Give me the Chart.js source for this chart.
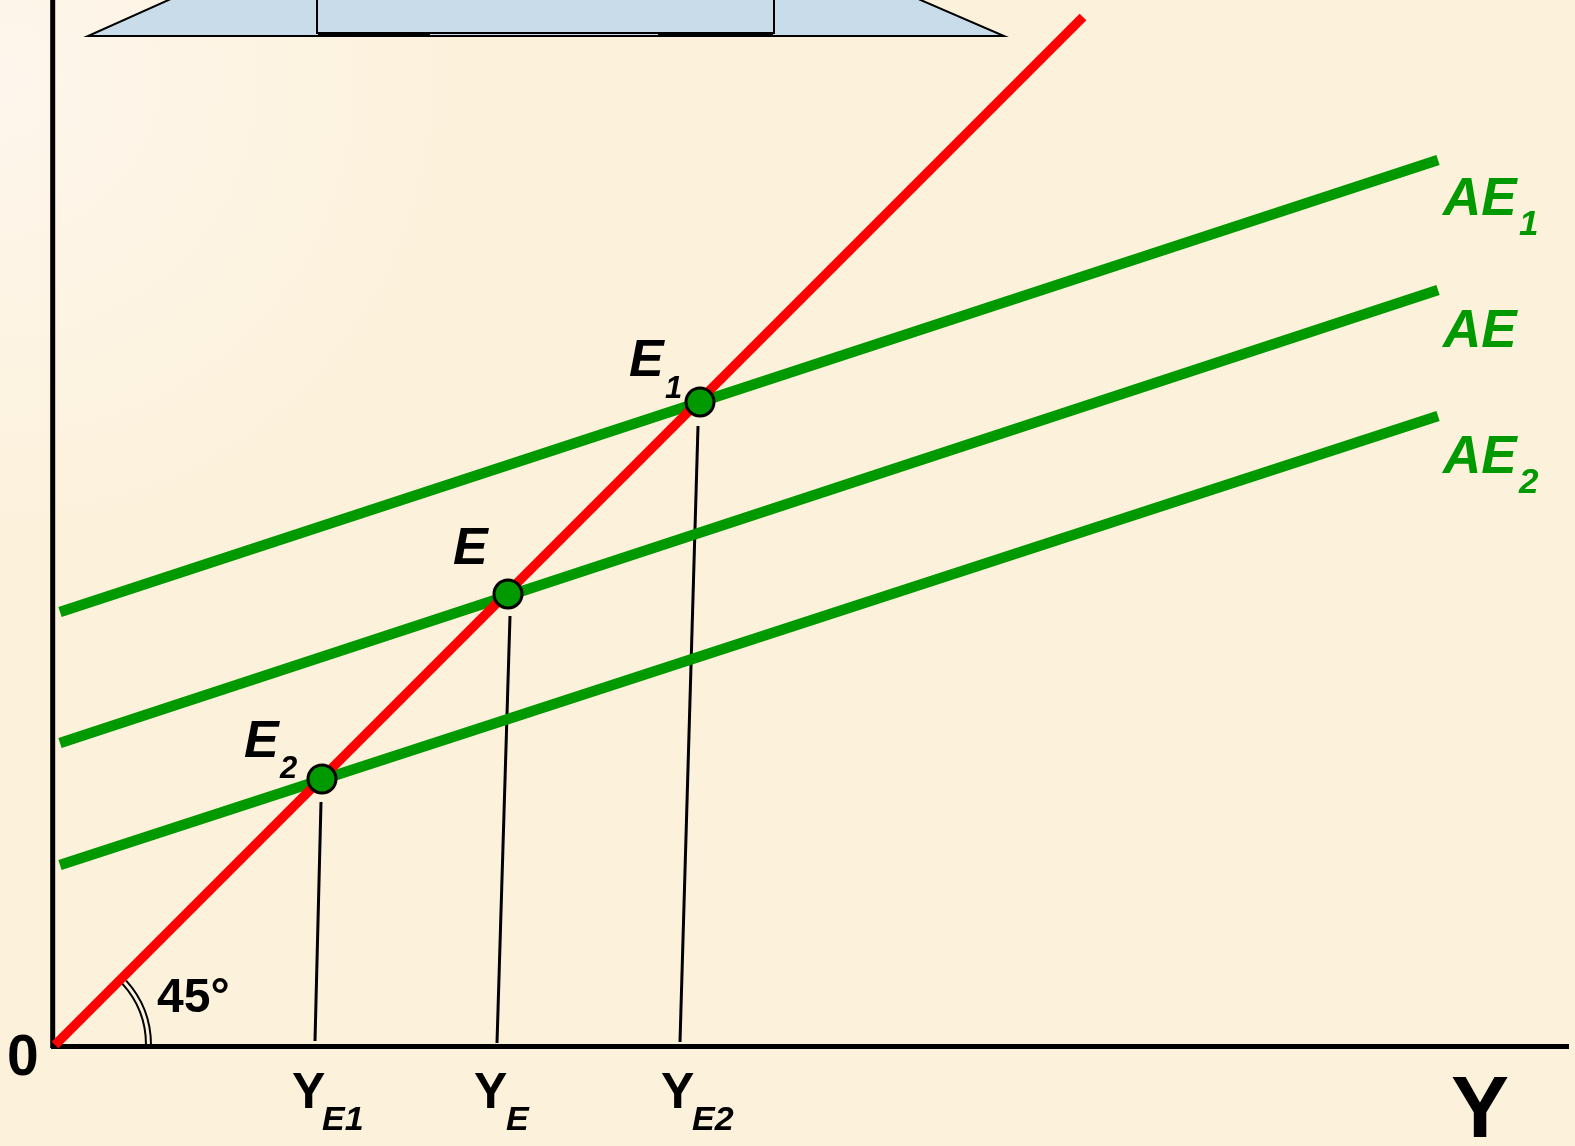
<!DOCTYPE html>
<html>
<head>
<meta charset="utf-8">
<script src="https://cdn.jsdelivr.net/npm/chart.js@4.4.1/dist/chart.umd.min.js"></script>
<style>
  html, body { margin: 0; padding: 0; background: #fcf1da; }
  canvas { display: block; }
</style>
</head>
<body>
<canvas id="aeChart" width="1575" height="1146"></canvas>
<script>
// values (x = income Y, y = expenditure)
const diagonal = [[0, 0], [1028, 1028]];
const ae1 = [[5, 433], [1383, 885]];
const ae = [[5, 302], [1383, 755]];
const ae2 = [[5, 180], [1383, 629]];
const equilibria = [[645, 643], [453, 451], [267, 266]]; // E1, E, E2
const dropE1 = [[643, 619], [625, 3]];
const dropE = [[455, 429], [442, 2]];
const dropE2 = [[266, 243], [260, 4]];
const axisX = [-4, 1514];
const axisY = [-3, 1047];

const toPts = (arr) => arr.map((p) => ({ x: p[0], y: p[1] }));
const FONT = '"Liberation Sans", Arial, sans-serif';
const GREEN = "#009900";

function txt(ctx, s, x, y, size, style, color) {
  ctx.font = style + " " + size + "px " + FONT;
  ctx.fillStyle = color;
  ctx.textAlign = "left";
  ctx.textBaseline = "alphabetic";
  ctx.fillText(s, x, y);
}

const decorPlugin = {
  id: "decor",
  beforeDraw(chart) {
    const ctx = chart.ctx;
    ctx.save();
    const g = ctx.createRadialGradient(0, 80, 10, 0, 80, 500);
    g.addColorStop(0, "#fef6ec");
    g.addColorStop(1, "#fcf1da");
    ctx.fillStyle = g;
    ctx.fillRect(0, 0, chart.width, chart.height);

    // top slide shape
    ctx.beginPath();
    ctx.moveTo(173, -2);
    ctx.lineTo(88, 36);
    ctx.lineTo(1004, 36);
    ctx.lineTo(916, -2);
    ctx.closePath();
    ctx.fillStyle = "#c9dcea";
    ctx.fill();
    ctx.lineWidth = 2;
    ctx.strokeStyle = "#000";
    ctx.stroke();
    ctx.strokeRect(317, -2, 457, 35);
    ctx.lineWidth = 3;
    ctx.beginPath();
    ctx.moveTo(318, 34.5); ctx.lineTo(430, 34.5);
    ctx.moveTo(658, 34.5); ctx.lineTo(773, 34.5);
    ctx.stroke();
    ctx.restore();
  },
  beforeDatasetsDraw(chart) {
    const ctx = chart.ctx;
    const xs = chart.scales.x, ys = chart.scales.y;
    ctx.save();
    ctx.strokeStyle = "#000";
    ctx.lineWidth = 5;
    ctx.beginPath();
    ctx.moveTo(xs.getPixelForValue(axisX[0]), ys.getPixelForValue(-1.5));
    ctx.lineTo(xs.getPixelForValue(axisX[1]), ys.getPixelForValue(-1.5));
    ctx.moveTo(xs.getPixelForValue(-2.3), ys.getPixelForValue(axisY[0]));
    ctx.lineTo(xs.getPixelForValue(-2.3), ys.getPixelForValue(axisY[1]));
    ctx.stroke();
    ctx.restore();
  },
  afterDatasetsDraw(chart) {
    const ctx = chart.ctx;
    const xs = chart.scales.x, ys = chart.scales.y;
    ctx.save();
    // 45 degree angle mark
    const cx = xs.getPixelForValue(0), cy = ys.getPixelForValue(0);
    ctx.strokeStyle = "#000";
    ctx.lineWidth = 2;
    [91, 96].forEach((r) => {
      ctx.beginPath();
      ctx.arc(cx, cy, r, -Math.PI / 4 + 0.05, 0);
      ctx.stroke();
    });
    txt(ctx, "45°", 157, 1012, 48, "bold", "#000");
    txt(ctx, "0", 7, 1075, 57, "bold", "#000");

    // equilibrium labels
    txt(ctx, "E", 629, 376, 52, "italic bold", "#000");
    txt(ctx, "1", 665, 398, 31, "italic bold", "#000");
    txt(ctx, "E", 453, 564, 52, "italic bold", "#000");
    txt(ctx, "E", 244, 757, 52, "italic bold", "#000");
    txt(ctx, "2", 280, 778, 31, "italic bold", "#000");

    // AE labels
    txt(ctx, "AE", 1443, 215, 53, "italic bold", GREEN);
    txt(ctx, "1", 1519, 235, 35, "italic bold", GREEN);
    txt(ctx, "AE", 1443, 347, 53, "italic bold", GREEN);
    txt(ctx, "AE", 1443, 473, 53, "italic bold", GREEN);
    txt(ctx, "2", 1519, 493, 35, "italic bold", GREEN);

    // income labels
    txt(ctx, "Y", 292, 1108, 50, "bold", "#000");
    txt(ctx, "E1", 322, 1130, 34, "italic bold", "#000");
    txt(ctx, "Y", 474, 1108, 50, "bold", "#000");
    txt(ctx, "E", 506, 1130, 34, "italic bold", "#000");
    txt(ctx, "Y", 661, 1108, 50, "bold", "#000");
    txt(ctx, "E2", 692, 1130, 34, "italic bold", "#000");
    txt(ctx, "Y", 1451, 1137, 87, "bold", "#000");
    ctx.restore();
  },
};

const lineSet = (data, color, width, order) => ({
  data: toPts(data),
  showLine: true,
  borderColor: color,
  borderWidth: width,
  borderCapStyle: "butt",
  pointRadius: 0,
  fill: false,
  clip: false,
  order: order,
});

new Chart(document.getElementById("aeChart"), {
  type: "scatter",
  data: {
    datasets: [
      {
        data: toPts(equilibria),
        pointRadius: 14,
        pointBackgroundColor: GREEN,
        pointBorderColor: "#000",
        pointBorderWidth: 3,
        showLine: false,
        clip: false,
        order: 0,
      },
      lineSet(diagonal, "#ff0000", 9.5, 1),
      lineSet(ae1, GREEN, 10.5, 2),
      lineSet(ae, GREEN, 10.5, 2),
      lineSet(ae2, GREEN, 10.5, 2),
      lineSet(dropE1, "#000", 3, 3),
      lineSet(dropE, "#000", 3, 3),
      lineSet(dropE2, "#000", 3, 3),
    ],
  },
  options: {
    responsive: false,
    animation: false,
    layout: { autoPadding: false, padding: { left: 55, right: 0, top: 0, bottom: 101 } },
    plugins: { legend: { display: false }, tooltip: { enabled: false } },
    scales: {
      x: { type: "linear", min: 0, max: 1520, display: false },
      y: { type: "linear", min: 0, max: 1045, display: false },
    },
  },
  plugins: [decorPlugin],
});
</script>
</body>
</html>
